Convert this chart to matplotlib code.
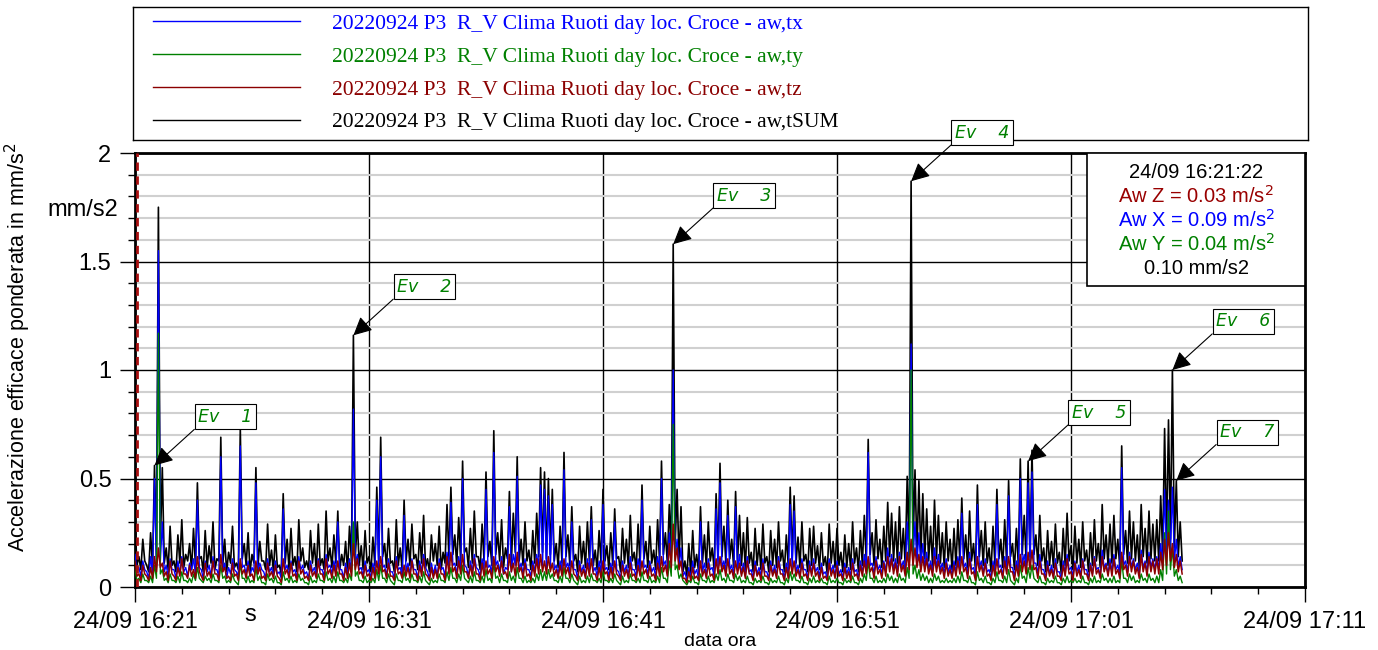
'''Accelerazione efficace ponderata - R_V Clima Ruoti, loc. Croce, 24/09/2022'''

import numpy as np
import matplotlib
matplotlib.use('Agg')
import matplotlib.pyplot as plt
import matplotlib.dates as mdates

plt.rcParams['font.family'] = ['Liberation Sans', 'DejaVu Sans']

# read every 10 s from 24/09 16:21:00: the peak and the trough of each
# 10 s slot, values in hundredths of mm/s2
start = np.datetime64('2022-09-24T16:21:00')
step_s = 10

sum_hi = [
    30, 14, 22, 10, 25, 56, 175, 55, 18, 28,
    12, 24, 31, 15, 20, 27, 48, 14, 26, 19,
    30, 13, 69, 22, 16, 28, 11, 73, 20, 25,
    15, 55, 21, 12, 29, 17, 24, 10, 43, 22,
    27, 14, 31, 18, 12, 26, 20, 29, 13, 35,
    18, 24, 35, 15, 21, 28, 116, 30, 19, 26,
    14, 23, 46, 69, 20, 27, 12, 31, 18, 40,
    22, 29, 15, 25, 33, 13, 24, 20, 28, 16,
    38, 46, 24, 32, 58, 18, 27, 35, 14, 29,
    53, 21, 72, 25, 31, 18, 44, 34, 60, 22,
    30, 17, 26, 34, 55, 53, 50, 45, 20, 28,
    62, 24, 37, 15, 28, 21, 30, 37, 17, 26,
    45, 19, 25, 36, 14, 27, 22, 33, 16, 29,
    47, 21, 28, 17, 31, 58, 25, 38, 158, 45,
    37, 12, 20, 26, 15, 37, 24, 30, 18, 43,
    57, 28, 40, 22, 44, 33, 25, 32, 16, 27,
    20, 29, 14, 26, 22, 30, 17, 24, 46, 42,
    23, 30, 15, 27, 28, 19, 25, 14, 29, 21,
    27, 16, 24, 20, 30, 18, 26, 33, 68, 25,
    31, 22, 28, 39, 34, 30, 37, 27, 51, 187,
    54, 49, 43, 36, 28, 40, 33, 25, 30, 22,
    27, 31, 41, 24, 35, 20, 47, 26, 30, 18,
    28, 45, 22, 31, 49, 20, 27, 59, 33, 58,
    63, 24, 33, 18, 26, 21, 29, 16, 27, 34,
    19, 28, 22, 30, 17, 25, 31, 20, 38, 24,
    29, 33, 22, 65, 26, 35, 30, 24, 38, 27,
    35, 29, 31, 42, 73, 77, 100, 49, 30,
]
sum_lo = [
    10, 8, 12, 7, 9, 14, 20, 11, 8, 10,
    7, 11, 9, 12, 8, 10, 13, 7, 9, 11,
    8, 12, 10, 7, 11, 9, 8, 13, 10, 7,
    11, 9, 12, 8, 10, 7, 9, 6, 11, 8,
    10, 7, 12, 9, 8, 11, 7, 10, 8, 12,
    9, 11, 8, 10, 7, 12, 15, 10, 8, 11,
    7, 10, 12, 14, 9, 11, 7, 10, 8, 12,
    10, 13, 8, 11, 9, 7, 12, 10, 8, 11,
    13, 15, 10, 12, 16, 9, 11, 14, 8, 12,
    14, 10, 15, 12, 9, 13, 11, 16, 12, 10,
    12, 8, 11, 14, 16, 13, 15, 12, 9, 11,
    14, 10, 12, 7, 11, 9, 12, 10, 8, 11,
    12, 8, 10, 13, 7, 11, 9, 12, 8, 10,
    13, 9, 11, 8, 12, 15, 11, 16, 20, 12,
    7, 5, 6, 9, 7, 11, 9, 12, 8, 13,
    14, 11, 13, 9, 12, 10, 8, 11, 7, 10,
    8, 11, 7, 10, 9, 12, 7, 10, 13, 11,
    9, 12, 7, 10, 11, 8, 10, 6, 11, 9,
    10, 7, 9, 8, 11, 7, 10, 12, 15, 10,
    13, 9, 12, 14, 12, 11, 13, 10, 15, 18,
    16, 14, 13, 12, 10, 13, 11, 9, 12, 8,
    10, 12, 13, 9, 12, 8, 14, 10, 11, 7,
    10, 13, 9, 11, 14, 8, 10, 15, 12, 14,
    15, 10, 12, 7, 10, 9, 11, 6, 10, 12,
    8, 11, 9, 12, 7, 10, 12, 9, 13, 10,
    11, 13, 9, 15, 11, 13, 12, 9, 14, 11,
    13, 12, 12, 15, 20, 22, 18, 14, 12,
]

x_hi = [
    15, 9, 12, 7, 14, 50, 155, 30, 10, 13,
    8, 12, 14, 9, 11, 13, 40, 8, 12, 10,
    14, 8, 60, 11, 9, 13, 7, 65, 10, 12,
    9, 48, 11, 7, 13, 9, 12, 7, 36, 10,
    12, 8, 14, 10, 7, 12, 9, 13, 8, 15,
    10, 12, 30, 8, 11, 13, 82, 15, 9, 12,
    8, 11, 40, 60, 10, 13, 7, 14, 9, 33,
    11, 13, 8, 12, 15, 7, 11, 10, 13, 9,
    16, 39, 11, 14, 50, 9, 12, 15, 8, 13,
    45, 10, 62, 12, 14, 9, 37, 15, 51, 11,
    13, 8, 12, 15, 47, 45, 42, 38, 10, 12,
    54, 11, 30, 8, 12, 10, 13, 31, 9, 12,
    38, 9, 11, 30, 7, 12, 10, 14, 8, 13,
    40, 10, 12, 9, 14, 50, 12, 25, 100, 22,
    18, 7, 9, 12, 8, 30, 11, 13, 9, 36,
    48, 12, 33, 10, 37, 15, 11, 14, 8, 12,
    9, 13, 7, 12, 10, 14, 8, 11, 38, 35,
    10, 13, 8, 12, 13, 9, 11, 7, 13, 10,
    12, 8, 11, 9, 13, 8, 12, 15, 62, 11,
    14, 10, 12, 18, 15, 13, 16, 12, 30, 112,
    30, 25, 20, 16, 12, 18, 15, 11, 13, 10,
    12, 14, 34, 11, 16, 9, 38, 12, 13, 8,
    12, 38, 10, 14, 42, 9, 12, 50, 15, 48,
    53, 11, 15, 8, 12, 10, 13, 7, 12, 15,
    9, 12, 10, 13, 8, 11, 14, 9, 17, 11,
    13, 15, 10, 55, 12, 16, 13, 11, 17, 12,
    16, 13, 14, 20, 45, 40, 46, 22, 14,
]
x_lo = [
    7, 5, 8, 4, 6, 9, 12, 7, 5, 8,
    4, 6, 7, 5, 8, 6, 9, 4, 7, 5,
    8, 5, 7, 4, 6, 8, 5, 9, 6, 5,
    7, 6, 8, 4, 7, 5, 6, 4, 8, 5,
    7, 4, 8, 6, 4, 7, 5, 8, 5, 9,
    6, 7, 8, 4, 6, 7, 11, 8, 5, 7,
    4, 6, 8, 9, 5, 7, 4, 8, 5, 7,
    6, 8, 4, 7, 9, 4, 6, 5, 8, 5,
    9, 10, 6, 8, 10, 5, 7, 9, 5, 8,
    9, 6, 10, 7, 6, 8, 7, 10, 8, 6,
    8, 5, 7, 9, 10, 8, 9, 8, 6, 7,
    9, 6, 8, 4, 7, 5, 8, 7, 5, 6,
    8, 5, 6, 8, 4, 7, 5, 8, 5, 7,
    9, 6, 7, 5, 8, 10, 7, 11, 14, 9,
    5, 3, 4, 6, 4, 7, 5, 8, 5, 8,
    9, 7, 8, 5, 8, 6, 5, 7, 4, 6,
    5, 7, 4, 6, 5, 8, 4, 6, 9, 7,
    5, 8, 4, 6, 7, 5, 6, 4, 7, 5,
    6, 4, 6, 5, 7, 4, 6, 8, 10, 6,
    8, 6, 7, 9, 8, 7, 9, 7, 10, 13,
    11, 10, 9, 8, 7, 9, 8, 6, 7, 5,
    7, 8, 9, 6, 8, 5, 9, 6, 7, 4,
    6, 9, 5, 7, 9, 5, 7, 10, 8, 10,
    11, 6, 8, 4, 6, 5, 7, 4, 6, 8,
    5, 7, 5, 8, 4, 6, 8, 5, 9, 6,
    7, 8, 6, 10, 7, 9, 8, 6, 9, 7,
    9, 8, 8, 10, 14, 15, 12, 9, 8,
]

y_hi = [
    8, 4, 6, 3, 5, 10, 117, 8, 4, 6,
    3, 5, 7, 3, 4, 6, 9, 3, 5, 4,
    6, 3, 10, 5, 3, 6, 2, 11, 4, 5,
    3, 9, 5, 2, 6, 4, 5, 2, 7, 4,
    5, 3, 6, 4, 2, 5, 3, 6, 3, 7,
    4, 5, 7, 3, 4, 6, 30, 7, 3, 5,
    3, 4, 8, 10, 4, 6, 2, 6, 3, 7,
    4, 6, 3, 5, 7, 2, 4, 3, 6, 3,
    7, 9, 4, 6, 10, 3, 5, 7, 3, 5,
    8, 4, 11, 5, 6, 3, 7, 5, 9, 4,
    5, 3, 4, 6, 8, 7, 8, 6, 3, 5,
    9, 4, 6, 2, 5, 3, 5, 6, 3, 4,
    7, 3, 4, 6, 2, 5, 3, 6, 3, 4,
    7, 3, 5, 3, 5, 9, 4, 12, 75, 10,
    6, 2, 3, 5, 2, 6, 3, 5, 3, 6,
    8, 4, 6, 3, 6, 5, 3, 5, 2, 4,
    3, 5, 2, 4, 3, 5, 2, 4, 7, 6,
    3, 5, 2, 4, 5, 3, 4, 2, 5, 3,
    4, 2, 4, 3, 5, 2, 4, 6, 12, 4,
    5, 3, 4, 6, 5, 4, 6, 4, 9, 100,
    10, 8, 6, 5, 4, 6, 5, 3, 4, 3,
    4, 5, 7, 3, 5, 2, 7, 4, 5, 2,
    4, 7, 3, 5, 8, 2, 4, 10, 5, 9,
    10, 3, 5, 2, 4, 3, 5, 2, 4, 5,
    3, 4, 3, 5, 2, 4, 5, 3, 6, 4,
    4, 5, 3, 12, 4, 6, 5, 3, 6, 4,
    6, 4, 5, 8, 25, 35, 18, 8, 5,
]
y_lo = [
    3, 2, 3, 2, 2, 4, 6, 3, 2, 3,
    2, 2, 3, 2, 2, 3, 4, 2, 3, 2,
    3, 2, 4, 2, 2, 3, 1, 4, 2, 2,
    2, 3, 2, 1, 3, 2, 2, 1, 3, 2,
    2, 2, 3, 2, 1, 2, 2, 3, 2, 3,
    2, 2, 3, 2, 2, 3, 5, 3, 2, 2,
    2, 2, 3, 4, 2, 3, 1, 3, 2, 3,
    2, 3, 2, 2, 3, 1, 2, 2, 3, 2,
    3, 4, 2, 3, 4, 2, 2, 3, 2, 2,
    3, 2, 4, 2, 3, 2, 3, 2, 4, 2,
    2, 2, 2, 3, 3, 3, 4, 3, 2, 2,
    4, 2, 3, 1, 2, 2, 2, 3, 2, 2,
    3, 2, 2, 3, 1, 2, 2, 3, 2, 2,
    3, 2, 2, 2, 2, 4, 2, 5, 8, 4,
    3, 1, 2, 2, 1, 3, 2, 2, 2, 3,
    3, 2, 3, 2, 3, 2, 2, 2, 1, 2,
    2, 2, 1, 2, 2, 2, 1, 2, 3, 3,
    2, 2, 1, 2, 2, 2, 2, 1, 2, 2,
    2, 1, 2, 2, 2, 1, 2, 3, 4, 2,
    2, 2, 2, 3, 2, 2, 3, 2, 4, 6,
    4, 3, 3, 2, 2, 3, 2, 2, 2, 2,
    2, 2, 3, 2, 2, 1, 3, 2, 2, 1,
    2, 3, 2, 2, 3, 1, 2, 4, 2, 4,
    4, 2, 2, 1, 2, 2, 2, 1, 2, 2,
    2, 2, 2, 2, 1, 2, 2, 2, 3, 2,
    2, 2, 2, 4, 2, 3, 2, 2, 3, 2,
    3, 2, 2, 3, 6, 8, 5, 3, 2,
]

z_hi = [
    12, 6, 10, 5, 9, 14, 18, 11, 7, 12,
    5, 9, 13, 6, 10, 8, 14, 5, 11, 7,
    12, 6, 15, 9, 5, 11, 6, 13, 8, 10,
    6, 12, 9, 5, 11, 7, 10, 4, 13, 8,
    11, 6, 12, 8, 5, 10, 7, 12, 6, 13,
    8, 10, 12, 6, 9, 11, 20, 13, 7, 10,
    6, 9, 12, 14, 8, 11, 5, 12, 7, 10,
    9, 12, 6, 10, 13, 5, 9, 8, 11, 6,
    14, 16, 9, 12, 15, 7, 10, 13, 6, 11,
    12, 8, 14, 10, 12, 7, 15, 11, 16, 9,
    11, 6, 10, 13, 15, 12, 14, 11, 8, 10,
    13, 9, 12, 5, 10, 8, 11, 13, 6, 9,
    12, 7, 9, 12, 5, 10, 8, 11, 6, 10,
    12, 8, 10, 6, 11, 14, 10, 20, 29, 18,
    12, 4, 7, 9, 5, 12, 8, 11, 6, 13,
    14, 10, 13, 8, 12, 11, 9, 12, 6, 10,
    7, 11, 5, 10, 8, 12, 6, 9, 13, 12,
    8, 11, 6, 10, 11, 7, 9, 5, 11, 8,
    10, 6, 9, 7, 11, 6, 10, 12, 14, 9,
    12, 8, 11, 14, 13, 11, 14, 10, 16, 22,
    18, 15, 14, 13, 10, 14, 12, 9, 11, 8,
    10, 12, 14, 9, 13, 7, 14, 10, 11, 6,
    10, 13, 8, 12, 14, 7, 10, 15, 12, 16,
    17, 9, 12, 6, 10, 8, 11, 5, 10, 13,
    7, 11, 8, 12, 6, 10, 13, 8, 14, 10,
    11, 13, 8, 16, 10, 14, 12, 9, 15, 11,
    14, 12, 13, 16, 22, 25, 20, 15, 12,
]
z_lo = [
    5, 3, 6, 3, 4, 7, 9, 5, 3, 6,
    3, 5, 6, 4, 5, 4, 7, 3, 5, 4,
    6, 3, 7, 4, 3, 5, 3, 6, 4, 5,
    3, 6, 4, 3, 5, 4, 5, 2, 6, 4,
    5, 3, 6, 4, 3, 5, 4, 6, 3, 6,
    4, 5, 6, 3, 4, 5, 8, 6, 4, 5,
    3, 4, 6, 7, 4, 5, 3, 6, 4, 5,
    4, 6, 3, 5, 6, 3, 4, 4, 6, 3,
    6, 7, 4, 6, 7, 4, 5, 6, 3, 5,
    6, 4, 7, 5, 6, 4, 7, 5, 7, 4,
    5, 3, 5, 6, 7, 6, 7, 5, 4, 5,
    6, 4, 6, 3, 5, 4, 5, 6, 3, 4,
    6, 3, 4, 6, 3, 5, 4, 5, 3, 5,
    6, 4, 5, 3, 5, 7, 5, 9, 12, 8,
    4, 2, 3, 4, 3, 5, 4, 5, 3, 6,
    7, 5, 6, 4, 6, 5, 4, 6, 3, 5,
    3, 5, 3, 5, 4, 6, 3, 4, 6, 5,
    4, 5, 3, 5, 5, 3, 4, 3, 5, 4,
    5, 3, 4, 3, 5, 3, 5, 6, 7, 4,
    6, 4, 5, 7, 6, 5, 7, 5, 8, 10,
    9, 7, 7, 6, 5, 7, 6, 4, 5, 4,
    5, 6, 7, 4, 6, 3, 7, 5, 5, 3,
    5, 6, 4, 6, 7, 3, 5, 7, 6, 8,
    8, 4, 6, 3, 5, 4, 5, 3, 5, 6,
    3, 5, 4, 6, 3, 5, 6, 4, 7, 5,
    5, 6, 4, 8, 5, 7, 6, 4, 7, 5,
    7, 6, 6, 8, 10, 12, 9, 7, 6,
]

# sample index of each marked event on the SUM trace
event_idx = [5, 56, 138, 199, 229, 266, 267]

series_label = '20220924 P3  R_V Clima Ruoti day loc. Croce - aw,'
cursor_time = np.datetime64('2022-09-24T16:21:05')
info_lines = ['24/09 16:21:22', 'Aw Z = 0.03 m/s$^2$', 'Aw X = 0.09 m/s$^2$',
              'Aw Y = 0.04 m/s$^2$', '0.10 mm/s2']
info_colors = ['black', '#990000', '#0000ff', '#008000', 'black']


def trace(hi, lo):
    '''peak then trough of every slot, half a slot apart'''
    vals = np.column_stack([hi, lo]).ravel() / 100
    t = start + np.arange(len(vals)) * np.timedelta64(step_s // 2, 's')
    return t, vals


def make_plot():
    fig = plt.figure(figsize=(13.78, 6.5), dpi=100)
    lax = fig.add_axes([133 / 1378, 1 - 140 / 650, 1175 / 1378, 133 / 650])
    ax = fig.add_axes([135 / 1378, 63 / 650, 1170 / 1378, 434 / 650])
    ax.set_zorder(3)

    l_sum, = ax.plot(*trace(sum_hi, sum_lo), color='black', lw=1.2, zorder=3)
    l_x, = ax.plot(*trace(x_hi, x_lo), color='#0000ff', lw=1.0, zorder=4)
    l_y, = ax.plot(*trace(y_hi, y_lo), color='#008000', lw=1.0, zorder=5)
    l_z, = ax.plot(*trace(z_hi, z_lo), color='#8b0000', lw=1.1, zorder=6)

    ax.axvline(cursor_time, color='#aa1111', lw=2, ls=(0, (3, 2)), zorder=7)

    ax.set_xlim(np.datetime64('2022-09-24T16:21:00'), np.datetime64('2022-09-24T17:11:00'))
    ax.set_ylim(0, 2)

    ax.xaxis.set_major_locator(mdates.MinuteLocator(byminute=[1, 11, 21, 31, 41, 51]))
    ax.xaxis.set_minor_locator(mdates.MinuteLocator(byminute=range(1, 60, 2)))
    ax.xaxis.set_major_formatter(mdates.DateFormatter('24/09 %H:%M'))
    ax.set_yticks([0, 0.5, 1, 1.5, 2])
    ax.set_yticklabels(['0', '0.5', '1', '1.5', '2'])
    ax.set_yticks(np.arange(0, 2.01, 0.1), minor=True)

    ax.grid(which='major', color='black', lw=1)
    ax.yaxis.grid(which='minor', color='#d0d0d0', lw=1.5)
    ax.set_axisbelow(True)
    ax.tick_params(which='major', length=11, width=1, labelsize=17, pad=6)
    ax.tick_params(which='minor', length=5, width=1)
    for sp in ax.spines.values():
        sp.set_linewidth(2)

    ax.set_xlabel('data ora', fontsize=14, labelpad=0)
    ax.set_ylabel('Accelerazione efficace ponderata in mm/s$^2$', fontsize=15.5)
    ax.yaxis.set_label_coords(-0.087, 0.553)
    fig.text(118 / 1378, 1 - 210 / 650, 'mm/s2', fontsize=17, ha='right', va='center')
    fig.text(250 / 1378, 1 - 615 / 650, 's', fontsize=17, ha='center', va='center')

    # event labels
    t_sum = start + np.arange(len(sum_hi)) * np.timedelta64(step_s, 's')
    v_sum = np.array(sum_hi) / 100
    for k, i in enumerate(event_idx):
        ax.annotate('Ev    %d' % (k + 1), xy=(t_sum[i], v_sum[i]), xytext=(51, 35),
                    textcoords='offset points', ha='center', va='center',
                    fontsize=12.5, style='italic', color='#008000', zorder=10,
                    family='DejaVu Sans', annotation_clip=False,
                    bbox=dict(boxstyle='square,pad=0.2', fc='white', ec='black', lw=0.8),
                    arrowprops=dict(arrowstyle='-|>', mutation_scale=28, color='black',
                                    lw=0.8, shrinkA=0, shrinkB=0, relpos=(0, 0)))

    # cursor readout box
    bx0, by0 = (1087 - 135) / 1170, (587 - 286) / 434
    ax.add_patch(plt.Rectangle((bx0, by0), 1 - bx0, 1 - by0, transform=ax.transAxes,
                               fc='white', ec='black', lw=1.2, zorder=8))
    for j, (txt, col) in enumerate(zip(info_lines, info_colors)):
        ax.text((bx0 + 1) / 2, 1 - (19 + 24 * j) / 434, txt, transform=ax.transAxes,
                ha='center', va='center', fontsize=14.5, color=col, zorder=9)

    # legend box above the plot
    lax.set_xticks([])
    lax.set_yticks([])
    for sp in lax.spines.values():
        sp.set_linewidth(1)
    labels = [series_label + s for s in ['tx', 'ty', 'tz', 'tSUM']]
    handles = [l_x, l_y, l_z, l_sum]
    leg = lax.legend(handles, labels, loc='upper left', bbox_to_anchor=(14 / 1175, 1.0),
                     frameon=False, prop={'family': 'Liberation Serif', 'size': 15.5},
                     handlelength=6.8, handletextpad=1.5, labelspacing=0.6,
                     borderaxespad=0, borderpad=0.3)
    for txt, h in zip(leg.get_texts(), handles):
        txt.set_color(h.get_color())
    for h in leg.legend_handles:
        h.set_linewidth(1.0)

    fig.savefig('out.png', dpi=100)


if __name__ == '__main__':
    make_plot()
